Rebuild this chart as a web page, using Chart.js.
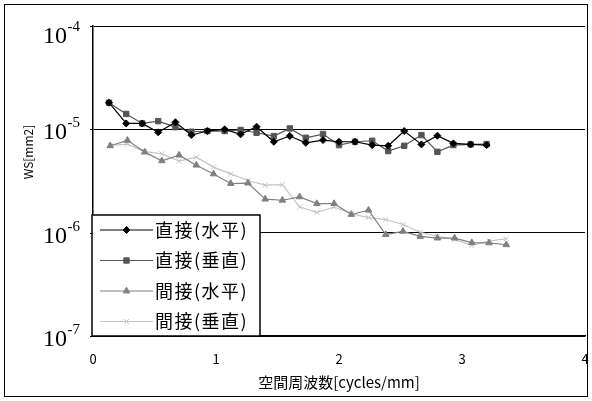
<!DOCTYPE html>
<html>
<head>
<meta charset="utf-8">
<script src="https://cdn.jsdelivr.net/npm/chart.js@4.4.1/dist/chart.umd.min.js"></script>
<style>
  html, body { margin: 0; padding: 0; background: #fff; }
  #wrap { width: 592px; height: 401px; }
</style>
</head>
<body>
<div id="wrap"><canvas id="chart" width="592" height="401"></canvas></div>
<script>
// spatial frequency [cycles/mm]
const freqDirect   = [0.13, 0.27, 0.40, 0.53, 0.67, 0.80, 0.93, 1.07, 1.20, 1.33, 1.47, 1.60,
                      1.73, 1.87, 2.00, 2.13, 2.27, 2.40, 2.53, 2.67, 2.80, 2.93, 3.07, 3.20];
const freqIndirect = [0.14, 0.28, 0.42, 0.56, 0.70, 0.84, 0.98, 1.12, 1.26, 1.40, 1.54, 1.68,
                      1.82, 1.96, 2.10, 2.24, 2.38, 2.52, 2.66, 2.80, 2.94, 3.08, 3.22, 3.36];

// WS [mm2]
const directH   = [1.81e-5, 1.14e-5, 1.14e-5, 9.35e-6, 1.17e-5, 8.80e-6, 9.63e-6, 1.00e-5, 8.94e-6, 1.06e-5, 7.58e-6, 8.61e-6,
                   7.41e-6, 7.87e-6, 7.58e-6, 7.58e-6, 7.04e-6, 6.93e-6, 9.63e-6, 7.15e-6, 8.67e-6, 7.31e-6, 7.15e-6, 7.04e-6];
const directV   = [1.81e-5, 1.41e-5, 1.14e-5, 1.20e-5, 1.05e-5, 9.48e-6, 9.63e-6, 9.63e-6, 9.85e-6, 9.27e-6, 8.61e-6, 1.02e-5,
                   8.29e-6, 9.00e-6, 7.04e-6, 7.58e-6, 7.75e-6, 6.16e-6, 6.93e-6, 8.80e-6, 6.06e-6, 7.04e-6, 7.15e-6, 7.20e-6];
const indirectH = [6.93e-6, 7.82e-6, 6.02e-6, 4.96e-6, 5.63e-6, 4.50e-6, 3.70e-6, 2.99e-6, 3.02e-6, 2.11e-6, 2.06e-6, 2.22e-6,
                   1.91e-6, 1.91e-6, 1.50e-6, 1.65e-6, 9.57e-7, 1.03e-6, 9.20e-7, 8.86e-7, 8.86e-7, 8.00e-7, 7.96e-7, 7.64e-7];
const indirectV = [7.00e-6, 7.20e-6, 6.09e-6, 5.80e-6, 4.92e-6, 5.38e-6, 4.31e-6, 3.71e-6, 3.20e-6, 2.88e-6, 2.91e-6, 1.77e-6,
                   1.57e-6, 1.77e-6, 1.53e-6, 1.40e-6, 1.34e-6, 1.20e-6, 1.01e-6, 9.20e-7, 8.61e-7, 7.53e-7, 8.29e-7, 8.75e-7];

const seriesLabels = ['直接(水平)', '直接(垂直)', '間接(水平)', '間接(垂直)'];
const yTicks = [1e-4, 1e-5, 1e-6, 1e-7];
const xTicks = [0, 1, 2, 3, 4];
const xTitle = '空間周波数[cycles/mm]';
const yTitle = 'WS[mm2]';

const pts = (xs, ys) => xs.map((x, i) => ({ x, y: ys[i] }));

function series(label, data, color, pointStyle, radius) {
  return {
    label, data,
    borderColor: color, backgroundColor: color,
    borderWidth: 1.2, tension: 0,
    pointStyle, pointRadius: radius, pointHoverRadius: radius,
    pointBorderWidth: 1, pointBackgroundColor: color, pointBorderColor: color,
  };
}

const SERIF = '"Liberation Serif", "DejaVu Serif", serif';
const SANS  = '"Noto Sans CJK JP", "Noto Sans", sans-serif';

// frame + white background
const framePlugin = {
  id: 'frame',
  beforeDraw(chart) {
    const { ctx, width, height } = chart;
    ctx.save();
    ctx.fillStyle = '#fff';
    ctx.fillRect(0, 0, width, height);
    ctx.strokeStyle = '#000';
    ctx.lineWidth = 1;
    ctx.strokeRect(4.5, 4.5, width - 9, height - 9);
    ctx.restore();
  },
};

// tick labels (with superscripts), axis titles and boxed legend
const labelPlugin = {
  id: 'labels',
  afterDraw(chart) {
    const { ctx, chartArea: a } = chart;
    const xs = chart.scales.x, ys = chart.scales.y;
    ctx.save();
    ctx.fillStyle = '#000';

    yTicks.forEach(v => {
      const ty = ys.getPixelForValue(v);
      const py = Math.max(ty, a.top + 7);
      const exp = Math.round(Math.log10(v));
      ctx.font = '24px ' + SERIF;
      ctx.textAlign = 'right';
      ctx.textBaseline = 'alphabetic';
      ctx.fillText('10', 67, py + 10);
      ctx.font = '15px ' + SERIF;
      ctx.textAlign = 'left';
      ctx.fillText(String(exp), 67.5, py - 2);
      ctx.strokeStyle = '#000';
      ctx.lineWidth = 1;
      ctx.beginPath();
      ctx.moveTo(a.left - 3, Math.round(ty) + 0.5);
      ctx.lineTo(a.left, Math.round(ty) + 0.5);
      ctx.stroke();
    });

    ctx.font = '13px ' + SANS;
    ctx.textAlign = 'center';
    ctx.textBaseline = 'middle';
    xTicks.forEach(v => ctx.fillText(String(v), xs.getPixelForValue(v), a.bottom + 23));

    ctx.font = '15px ' + SANS;
    ctx.fillText(xTitle, (a.left + a.right) / 2, a.bottom + 46);

    ctx.save();
    ctx.translate(28, 152);
    ctx.rotate(-Math.PI / 2);
    ctx.font = '12px ' + SANS;
    ctx.fillText(yTitle, 0, 0);
    ctx.restore();

    // legend box
    const L = a.left - 1, T = 215, R = 260, B = a.bottom;
    ctx.fillStyle = '#fff';
    ctx.fillRect(L, T, R - L, B - T);
    ctx.strokeStyle = '#000';
    ctx.lineWidth = 1.5;
    ctx.strokeRect(L, T, R - L, B - T);

    chart.data.datasets.forEach((ds, i) => {
      const cy = T + 15 + i * 30.5;
      ctx.strokeStyle = ds.borderColor;
      ctx.lineWidth = ds.borderWidth;
      ctx.beginPath();
      ctx.moveTo(L + 8, cy);
      ctx.lineTo(L + 61, cy);
      ctx.stroke();
      ctx.fillStyle = ds.pointBackgroundColor;
      ctx.strokeStyle = ds.pointBorderColor;
      ctx.lineWidth = ds.pointBorderWidth;
      Chart.helpers.drawPoint(ctx, { pointStyle: ds.pointStyle, radius: ds.pointRadius, rotation: 0, borderWidth: ds.pointBorderWidth }, L + 34.5, cy);
      ctx.fillStyle = '#000';
      ctx.font = '18px ' + SANS;
      ctx.textAlign = 'left';
      ctx.textBaseline = 'middle';
      ctx.letterSpacing = '1.5px';
      ctx.fillText(ds.label, L + 63, cy);
      ctx.letterSpacing = '0px';
    });

    ctx.restore();
  },
};

new Chart(document.getElementById('chart'), {
  type: 'line',
  data: {
    datasets: [
      series(seriesLabels[0], pts(freqDirect, directH),     '#000000', 'rectRot', 3.5),
      series(seriesLabels[1], pts(freqDirect, directV),     '#555555', 'rect', 3.8),
      series(seriesLabels[2], pts(freqIndirect, indirectH), '#808080', 'triangle', 3.8),
      series(seriesLabels[3], pts(freqIndirect, indirectV), '#c4c4c4', 'crossRot', 3.5),
    ],
  },
  options: {
    responsive: false, animation: false, devicePixelRatio: 1,
    layout: { padding: { left: 93, top: 26, right: 7, bottom: 57 } },
    plugins: { legend: { display: false }, tooltip: { enabled: false } },
    scales: {
      x: {
        type: 'linear', min: 0, max: 4,
        ticks: { display: false },
        grid: { display: false },
        border: { display: true, color: '#000', width: 1.5 },
      },
      y: {
        type: 'logarithmic', min: 1e-7, max: 1e-4,
        afterBuildTicks: s => { s.ticks = yTicks.map(v => ({ value: v })); },
        ticks: { display: false },
        grid: { color: '#000', lineWidth: 1, drawTicks: false },
        border: { display: true, color: '#000', width: 1.5 },
      },
    },
  },
  plugins: [framePlugin, labelPlugin],
});
</script>
</body>
</html>
